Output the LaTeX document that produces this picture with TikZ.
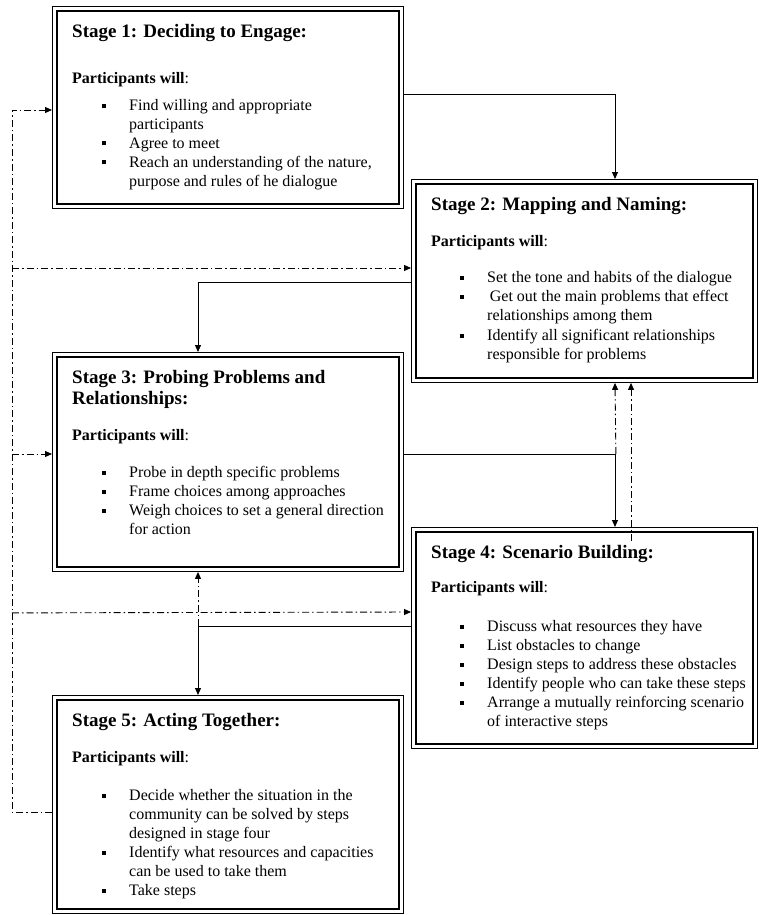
\documentclass[tikz,border=0pt]{standalone}
\usepackage{fontspec}
\setmainfont{Liberation Serif}
\usetikzlibrary{calc,arrows.meta}
\tikzset{
  frame/.style={draw, line width=0.9pt, inner sep=0pt, anchor=north west},
  inframe/.style={line width=2.5pt},
  hd/.style={anchor=base west, inner sep=0pt, font=\fontsize{19}{21}\selectfont\bfseries},
  tx/.style={anchor=base west, inner sep=0pt, font=\fontsize{16}{19}\selectfont},
  conn/.style={line width=1pt, -{Triangle[length=7pt,width=6pt]}},
  dd/.style={line width=0.9pt, dash pattern=on 7pt off 3pt on 1.5pt off 3pt},
  ddarrow/.style={dd, -{Triangle[length=7pt,width=6pt]}},
}
\newcommand\stagebox[5]{%
  \node[frame, minimum width=#4pt, minimum height=#5pt] (#1) at (#2,#3) {};
  \draw[inframe] ($(#1.north west)+(5,5)$) rectangle ($(#1.south east)+(-5,-5)$);}
\newcommand\bul{\makebox[27pt][l]{\rule[2.5pt]{4pt}{4pt}}}
\begin{document}
\begin{tikzpicture}[x=1pt,y=-1pt]
\useasboundingbox (0,0) rectangle (758,915);
% frames
\stagebox{s1}{52}{6}{351}{202}
\stagebox{s2}{411}{179}{346}{203}
\stagebox{s3}{52}{352}{351}{219}
\stagebox{s4}{411}{527}{346}{221}
\stagebox{s5}{52}{695}{351}{218}

% Stage 1 text
\node[hd] (t1h) at (72,38) {Stage 1: Deciding to Engage:};
\node[tx] (t1p) at (72,84) {\textbf{Participants will}:};
\node[tx] (t1a) at (102,111) {\bul Find willing and appropriate};
\node[tx] (t1b) at (129,130) {participants};
\node[tx] (t1c) at (102,148) {\bul Agree to meet};
\node[tx] (t1d) at (102,167) {\bul Reach an understanding of the nature,};
\node[tx] (t1e) at (129,186) {purpose and rules of he dialogue};

% Stage 2 text
\node[hd] (t2h) at (431,210) {Stage 2: Mapping and Naming:};
\node[tx] (t2p) at (431,246) {\textbf{Participants will}:};
\node[tx] (t2a) at (460,282) {\bul Set the tone and habits of the dialogue};
\node[tx] (t2b) at (460,301) {\bul \,Get out the main problems that effect};
\node[tx] (t2c) at (487,320) {relationships among them};
\node[tx] (t2d) at (460,340) {\bul Identify all significant relationships};
\node[tx] (t2e) at (487,359) {responsible for problems};

% Stage 3 text
\node[hd] (t3h) at (72,383) {Stage 3: Probing Problems and};
\node[hd] (t3i) at (72,404) {Relationships:};
\node[tx] (t3p) at (72,440) {\textbf{Participants will}:};
\node[tx] (t3a) at (102,477) {\bul Probe in depth specific problems};
\node[tx] (t3b) at (102,496) {\bul Frame choices among approaches};
\node[tx] (t3c) at (102,515) {\bul Weigh choices to set a general direction};
\node[tx] (t3d) at (129,534) {for action};

% Stage 4 text
\node[hd] (t4h) at (431,558) {Stage 4: Scenario Building:};
\node[tx] (t4p) at (431,592) {\textbf{Participants will}:};
\node[tx] (t4a) at (460,631) {\bul Discuss what resources they have};
\node[tx] (t4b) at (460,650) {\bul List obstacles to change};
\node[tx] (t4c) at (460,669) {\bul Design steps to address these obstacles};
\node[tx] (t4d) at (460,688) {\bul Identify people who can take these steps};
\node[tx] (t4e) at (460,707) {\bul Arrange a mutually reinforcing scenario};
\node[tx] (t4f) at (487,726) {of interactive steps};

% Stage 5 text
\node[hd] (t5h) at (72,726) {Stage 5: Acting Together:};
\node[tx] (t5p) at (72,762) {\textbf{Participants will}:};
\node[tx] (t5a) at (102,800) {\bul Decide whether the situation in the};
\node[tx] (t5b) at (129,819) {community can be solved by steps};
\node[tx] (t5c) at (129,838) {designed in stage four};
\node[tx] (t5d) at (102,857) {\bul Identify what resources and capacities};
\node[tx] (t5e) at (129,876) {can be used to take them};
\node[tx] (t5f) at (102,895) {\bul Take steps};

% solid connectors
\draw[conn] ($(s1.north east)+(0,89)$) -| ($(s2.north west)+(204,0)$);
\draw[conn] ($(s2.north west)+(0,103)$) -| ($(s3.north west)+(146,0)$);
\draw[conn] ($(s3.north east)+(0,102)$) -| ($(s4.north west)+(204,0)$);
\draw[conn] ($(s4.north west)+(0,99)$) -| ($(s5.north west)+(146,0)$);

% dash-dot feedback connectors
\draw[ddarrow] ($(s3.north east)+(212,102)$) -- ($(s2.south west)+(204,0)$);
\draw[ddarrow] ($(s4.north west)+(220,14)$) -- ($(s2.south west)+(220,0)$);
\draw[ddarrow] ($(s5.north west)+(146,-69)$) -- ($(s3.south west)+(146,0)$);
\draw[ddarrow] ($(s5.north west)+(0,117)$) -| ($(s1.north west)+(-40,104)$) -- ($(s1.north west)+(0,104)$);
\draw[ddarrow] ($(s1.north west)+(-40,262)$) -- ($(s2.north west)+(0,89)$);
\draw[ddarrow] ($(s3.north west)+(-40,102)$) -- ($(s3.north west)+(0,102)$);
\draw[ddarrow] ($(s3.south west)+(-40,41)$) -- ($(s4.north west)+(0,85)$);
\end{tikzpicture}
\end{document}
